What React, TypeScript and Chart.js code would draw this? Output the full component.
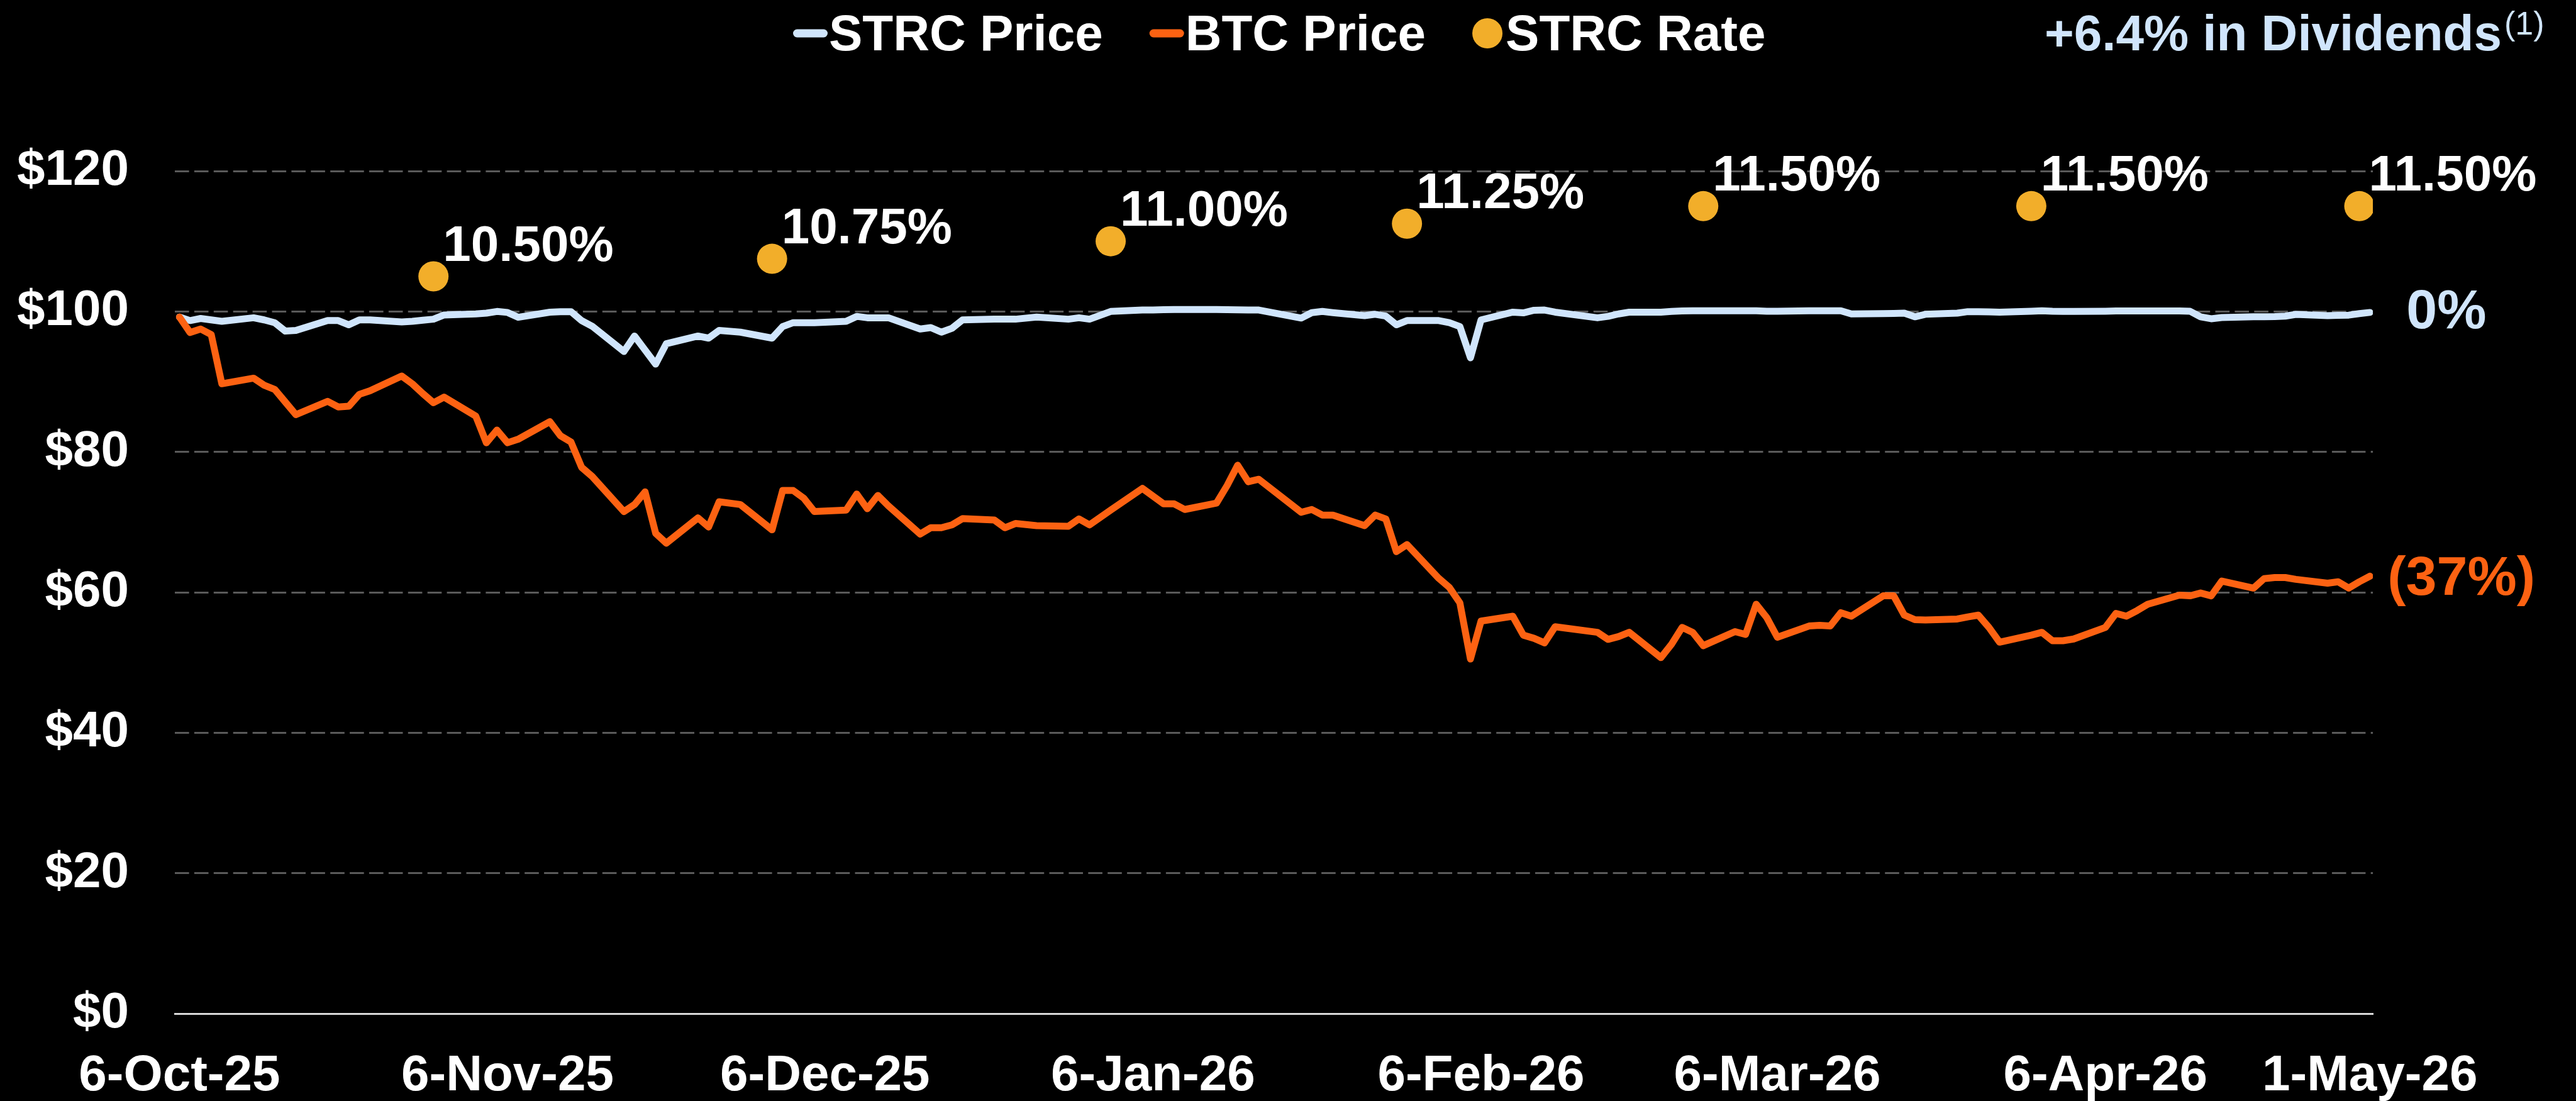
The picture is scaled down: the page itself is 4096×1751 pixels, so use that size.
import React, { useEffect, useRef } from 'react';
import { Chart, registerables } from 'chart.js';

Chart.register(...registerables);

// ---------- DATA ----------
const tradeDates = [
  '2025-10-06', '2025-10-07', '2025-10-08', '2025-10-09', '2025-10-10',
  '2025-10-13', '2025-10-14', '2025-10-15', '2025-10-16', '2025-10-17',
  '2025-10-20', '2025-10-21', '2025-10-22', '2025-10-23', '2025-10-24',
  '2025-10-27', '2025-10-28', '2025-10-29', '2025-10-30', '2025-10-31',
  '2025-11-03', '2025-11-04', '2025-11-05', '2025-11-06', '2025-11-07',
  '2025-11-10', '2025-11-11', '2025-11-12', '2025-11-13', '2025-11-14',
  '2025-11-17', '2025-11-18', '2025-11-19', '2025-11-20', '2025-11-21',
  '2025-11-24', '2025-11-25', '2025-11-26', '2025-11-28',
  '2025-12-01', '2025-12-02', '2025-12-03', '2025-12-04', '2025-12-05',
  '2025-12-08', '2025-12-09', '2025-12-10', '2025-12-11', '2025-12-12',
  '2025-12-15', '2025-12-16', '2025-12-17', '2025-12-18', '2025-12-19',
  '2025-12-22', '2025-12-23', '2025-12-24', '2025-12-26',
  '2025-12-29', '2025-12-30', '2025-12-31', '2026-01-02',
  '2026-01-05', '2026-01-06', '2026-01-07', '2026-01-08', '2026-01-09',
  '2026-01-12', '2026-01-13', '2026-01-14', '2026-01-15', '2026-01-16',
  '2026-01-20', '2026-01-21', '2026-01-22', '2026-01-23',
  '2026-01-26', '2026-01-27', '2026-01-28', '2026-01-29', '2026-01-30',
  '2026-02-02', '2026-02-03', '2026-02-04', '2026-02-05', '2026-02-06',
  '2026-02-09', '2026-02-10', '2026-02-11', '2026-02-12', '2026-02-13',
  '2026-02-17', '2026-02-18', '2026-02-19', '2026-02-20',
  '2026-02-23', '2026-02-24', '2026-02-25', '2026-02-26', '2026-02-27',
  '2026-03-02', '2026-03-03', '2026-03-04', '2026-03-05', '2026-03-06',
  '2026-03-09', '2026-03-10', '2026-03-11', '2026-03-12', '2026-03-13',
  '2026-03-16', '2026-03-17', '2026-03-18', '2026-03-19', '2026-03-20',
  '2026-03-23', '2026-03-24', '2026-03-25', '2026-03-26', '2026-03-27',
  '2026-03-30', '2026-03-31', '2026-04-01', '2026-04-02', '2026-04-03',
  '2026-04-06', '2026-04-07', '2026-04-08', '2026-04-09', '2026-04-10',
  '2026-04-13', '2026-04-14', '2026-04-15', '2026-04-16', '2026-04-17',
  '2026-04-20', '2026-04-21', '2026-04-22', '2026-04-23', '2026-04-24',
  '2026-04-27', '2026-04-28', '2026-04-29', '2026-04-30', '2026-05-01',
];

const strcPrice = [
  99.2, 98.7, 99.0, 98.8, 98.6,
  99.1, 98.8, 98.4, 97.2, 97.3,
  98.7, 98.7, 98.1, 98.8, 98.8,
  98.5, 98.6, 98.75, 98.9, 99.5,
  99.65, 99.76, 100.0, 99.86, 99.17,
  99.9, 99.97, 99.97, 98.7, 97.9,
  94.3, 96.5, 94.5, 92.5, 95.4,
  96.5, 96.2, 97.3, 97.05,
  96.2, 97.85, 98.4, 98.4, 98.4,
  98.6, 99.3, 99.1, 99.1, 99.1,
  97.5, 97.7, 97.05, 97.6, 98.8,
  98.9, 98.9, 98.9, 99.2,
  98.9, 99.1, 98.9, 100.0,
  100.2, 100.2, 100.25, 100.28, 100.28,
  100.28, 100.26, 100.24, 100.22, 100.2,
  99.06, 99.83, 100.0, 99.83,
  99.4, 99.6, 99.34, 98.1, 98.7,
  98.7, 98.4, 97.85, 93.4, 98.8,
  99.9, 99.8, 100.17, 100.2, 99.9,
  99.1, 99.3, 99.65, 99.9,
  99.9, 100.0, 100.07, 100.1, 100.1,
  100.1, 100.1, 100.1, 100.03, 100.03,
  100.1, 100.1, 100.1, 100.1, 99.65,
  99.7, 99.72, 99.76, 99.24, 99.6,
  99.76, 99.97, 99.97, 99.93, 99.9,
  100.03, 100.1, 100.03, 100.0, 100.0,
  100.03, 100.07, 100.07, 100.07, 100.07,
  100.07, 100.03, 99.24, 98.96, 99.13,
  99.24, 99.24, 99.27, 99.34, 99.58,
  99.41, 99.45, 99.48, 99.69, 99.86,
];

const btcPrice = [
  99.2, 97.0, 97.5, 96.7, 89.7,
  90.5, 89.5, 88.9, 87.1, 85.3,
  87.2, 86.4, 86.5, 88.2, 88.7,
  90.8, 89.7, 88.3, 87.0, 87.8,
  85.1, 81.3, 83.1, 81.3, 81.8,
  84.3, 82.3, 81.4, 77.8, 76.5,
  71.5, 72.5, 74.3, 68.4, 67.0,
  70.6, 69.3, 72.9, 72.5,
  68.9, 74.5, 74.5, 73.4, 71.5,
  71.7, 74.0, 71.9, 73.8, 72.3,
  68.3, 69.2, 69.2, 69.6, 70.5,
  70.3, 69.2, 69.8, 69.5,
  69.4, 70.45, 69.6, 71.7,
  74.8, 73.7, 72.6, 72.6, 71.8,
  72.7, 75.2, 78.1, 75.75, 76.1,
  71.4, 71.8, 71.0, 71.0,
  69.5, 71.0, 70.45, 65.8, 66.8,
  62.0, 60.7, 58.5, 50.5, 55.9,
  56.6, 53.9, 53.45, 52.8, 55.1,
  54.3, 53.3, 53.7, 54.3,
  50.7, 52.6, 55.0, 54.3, 52.4,
  54.4, 54.0, 58.3, 56.4, 53.6,
  55.2, 55.3, 55.2, 57.1, 56.6,
  59.5, 59.5, 56.75, 56.1, 56.05,
  56.2, 56.5, 56.75, 55.0, 52.9,
  53.9, 54.3, 53.1, 53.1, 53.35,
  55.0, 57.0, 56.6, 57.4, 58.3,
  59.6, 59.5, 59.9, 59.5, 61.6,
  60.6, 61.95, 62.1, 62.1, 61.85,
  61.3, 61.5, 60.6, 61.5, 62.3,
];

const rateDates = ['2025-10-30', '2025-12-01', '2026-01-02', '2026-01-30', '2026-02-27', '2026-03-30', '2026-04-30'];
const strcRate = [10.5, 10.75, 11.0, 11.25, 11.5, 11.5, 11.5];

const xTickDates = ['2025-10-06', '2025-11-06', '2025-12-06', '2026-01-06', '2026-02-06', '2026-03-06', '2026-04-06', '2026-05-01'];
const xTickLabels = ['6-Oct-25', '6-Nov-25', '6-Dec-25', '6-Jan-26', '6-Feb-26', '6-Mar-26', '6-Apr-26', '1-May-26'];

const seriesLabels = ['STRC Price', 'BTC Price', 'STRC Rate'];
const endLabels = ['0%', '(37%)'];
const dividendNote = '+6.4% in Dividends';
const dividendFootnote = '(1)';

// ---------- HELPERS ----------
const START = Date.UTC(2025, 9, 6);
const dayOf = (s: string) => {
  const [y, m, d] = s.split('-').map(Number);
  return (Date.UTC(y, m - 1, d) - START) / 86400000;
};

const BLUE = '#D0E5FC';
const ORANGE = '#FD6212';
const GOLD = '#F2AE2A';
const FONT = '"Liberation Sans", Arial, Helvetica, sans-serif';

const W = 4096;
const H = 1751;

const bgPlugin = {
  id: 'bg',
  beforeDraw(chart: any) {
    const ctx = chart.ctx;
    ctx.save();
    ctx.fillStyle = '#000000';
    ctx.fillRect(0, 0, chart.width, chart.height);
    ctx.restore();
  },
};

const labelPlugin = {
  id: 'labels',
  afterDatasetsDraw(chart: any) {
    const ctx = chart.ctx;
    ctx.save();
    // rate labels
    const rateMeta = chart.getDatasetMeta(2);
    ctx.font = `bold 80px ${FONT}`;
    ctx.fillStyle = '#FFFFFF';
    ctx.textAlign = 'left';
    ctx.textBaseline = 'alphabetic';
    rateMeta.data.forEach((pt: any, i: number) => {
      ctx.fillText(`${strcRate[i].toFixed(2)}%`, pt.x + 15, pt.y - 25);
    });
    // end labels
    const endCfg = [
      { idx: 0, color: BLUE, dx: 58, dy: -6 },
      { idx: 1, color: ORANGE, dx: 28, dy: -2 },
    ];
    ctx.font = `bold 88px ${FONT}`;
    endCfg.forEach((c, k) => {
      const meta = chart.getDatasetMeta(c.idx);
      const last = meta.data[meta.data.length - 1];
      ctx.fillStyle = c.color;
      ctx.fillText(endLabels[k], last.x + c.dx, last.y + c.dy + 0.716 * 88 / 2);
    });
    ctx.restore();
  },
  afterDraw(chart: any) {
    const ctx = chart.ctx;
    ctx.save();
    ctx.font = `bold 80px ${FONT}`;
    ctx.textAlign = 'left';
    ctx.textBaseline = 'alphabetic';
    let x = 1261;
    const cy = 53;
    const base = 80;
    chart.data.datasets.forEach((ds: any) => {
      if (ds.showLine === false) {
        ctx.fillStyle = ds.pointBackgroundColor;
        ctx.beginPath();
        ctx.arc(x + 24, cy, 24, 0, Math.PI * 2);
        ctx.fill();
        x += 53;
      } else {
        ctx.strokeStyle = ds.borderColor;
        ctx.lineWidth = 13;
        ctx.lineCap = 'round';
        ctx.beginPath();
        ctx.moveTo(x + 6.5, cy);
        ctx.lineTo(x + 55 - 6.5, cy);
        ctx.stroke();
        x += 57;
      }
      ctx.fillStyle = '#FFFFFF';
      ctx.fillText(ds.label, x, base);
      x += ctx.measureText(ds.label).width + 74;
    });
    // dividends note
    ctx.fillStyle = BLUE;
    ctx.font = `bold 80px ${FONT}`;
    const nx = 3251;
    ctx.fillText(dividendNote, nx, base);
    const nw = ctx.measureText(dividendNote).width;
    ctx.font = `52px ${FONT}`;
    ctx.fillText(dividendFootnote, nx + nw + 4, 55);
    ctx.restore();
  },
};

export default function App() {
  const ref = useRef<HTMLCanvasElement | null>(null);

  useEffect(() => {
    document.body.style.background = '#000';
    const canvas = ref.current;
    if (!canvas) return;
    const tickDays = xTickDates.map(dayOf);

    const chart = new Chart(canvas, {
      type: 'line',
      data: {
        datasets: [
          {
            label: seriesLabels[0],
            data: tradeDates.map((d, i) => ({ x: dayOf(d), y: strcPrice[i] })),
            borderColor: BLUE,
            backgroundColor: BLUE,
            borderWidth: 11,
            pointRadius: 0,
            borderCapStyle: 'round',
            borderJoinStyle: 'round',
            tension: 0,
            order: 3,
          },
          {
            label: seriesLabels[1],
            data: tradeDates.map((d, i) => ({ x: dayOf(d), y: btcPrice[i] })),
            borderColor: ORANGE,
            backgroundColor: ORANGE,
            borderWidth: 11,
            pointRadius: 0,
            borderCapStyle: 'round',
            borderJoinStyle: 'round',
            tension: 0,
            order: 2,
          },
          {
            label: seriesLabels[2],
            data: rateDates.map((d, i) => ({ x: dayOf(d), y: strcRate[i] * 10 })),
            showLine: false,
            pointRadius: 24,
            pointBackgroundColor: GOLD,
            pointBorderWidth: 0,
            borderColor: GOLD,
            backgroundColor: GOLD,
            order: 1,
          } as any,
        ],
      },
      options: {
        responsive: false,
        animation: false,
        events: [],
        layout: { padding: { top: 272, right: 323, left: 0, bottom: 0 } },
        plugins: {
          legend: { display: false },
          title: { display: false },
          tooltip: { enabled: false },
        },
        scales: {
          x: {
            type: 'linear',
            min: -0.44,
            max: 207.28,
            afterBuildTicks: (scale: any) => {
              scale.ticks = tickDays.map((v) => ({ value: v }));
            },
            afterFit: (scale: any) => {
              scale.height = 139;
            },
            ticks: {
              autoSkip: false,
              maxRotation: 0,
              minRotation: 0,
              padding: 52,
              color: '#FFFFFF',
              font: { family: FONT, size: 80, weight: 'bold' },
              callback: (_v: any, i: number) => xTickLabels[i],
            },
            grid: { display: false, drawTicks: false },
            border: { display: true, color: '#D9D9D9', width: 3 },
          },
          y: {
            min: 0,
            max: 120,
            afterFit: (scale: any) => {
              scale.width = 278;
            },
            ticks: {
              stepSize: 20,
              padding: 73,
              color: '#FFFFFF',
              font: { family: FONT, size: 80, weight: 'bold' },
              callback: (v: any) => `$${v}`,
            },
            grid: {
              drawTicks: false,
              lineWidth: 3,
              color: (c: any) => (c.tick && c.tick.value === 0 ? 'rgba(0,0,0,0)' : '#5A5A5A'),
            },
            border: { display: false, dash: [22.6, 8.3] },
          },
        },
      },
      plugins: [bgPlugin, labelPlugin],
    } as any);

    return () => chart.destroy();
  }, []);

  return (
    <div style={{ position: 'fixed', left: 0, top: 0, width: W, height: H, background: '#000' }}>
      <canvas ref={ref} width={W} height={H} style={{ width: W, height: H, display: 'block' }} />
    </div>
  );
}
